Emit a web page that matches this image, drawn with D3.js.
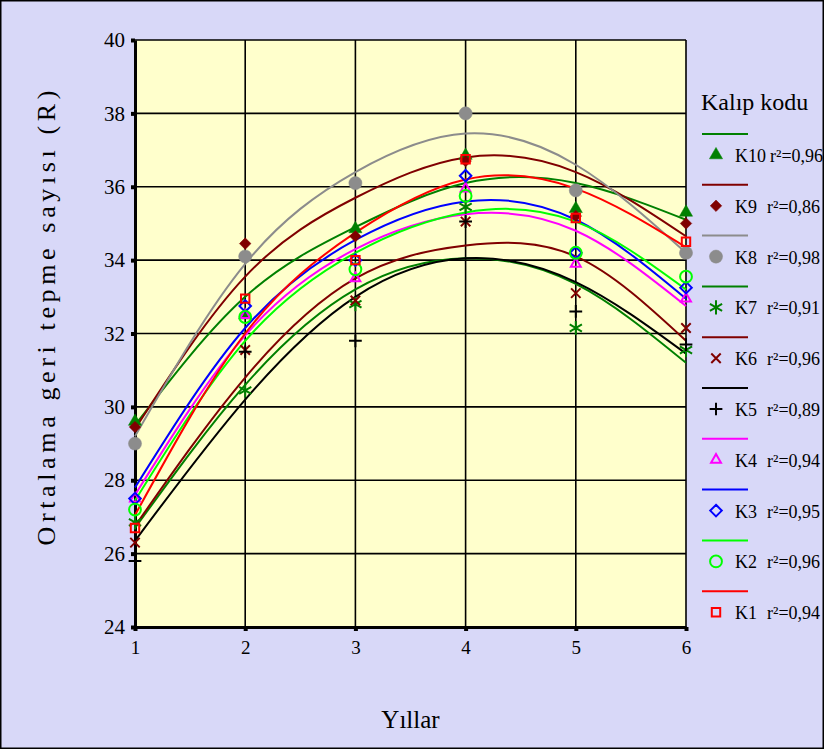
<!DOCTYPE html>
<html>
<head>
<meta charset="utf-8">
<script src="https://cdn.jsdelivr.net/npm/d3@7"></script>
<style>
  body { margin: 0; background: #fff; }
  svg { display: block; font-family: "Liberation Serif", "DejaVu Serif", serif; }
</style>
</head>
<body>
<div id="chart"></div>
<script>
// Kalıp kodu - yearly rebound number with quadratic trend lines

const width = 824,
    height = 749,
    margin = ({ top: 40, right: 138, bottom: 122, left: 135 });

// data
const years = [1, 2, 3, 4, 5, 6];
const codes = ["K10", "K9", "K8", "K7", "K6", "K5", "K4", "K3", "K2", "K1"];
const r2 = ["0,96", "0,86", "0,98", "0,91", "0,96", "0,89", "0,94", "0,95", "0,96", "0,94"];
const yTicks = [24, 26, 28, 30, 32, 34, 36, 38, 40];

// measured points
const k10 = [29.6, 32.5, 34.85, 36.85, 35.4, 35.3];
const k9 = [29.45, 34.45, 34.65, 36.7, 35.2, 35.0];
const k8 = [29.0, 34.1, 36.1, 38.0, 35.9, 34.2];
const k7 = [26.85, 30.45, 32.8, 35.45, 32.15, 31.55];
const k6 = [26.3, 31.55, 32.9, 35.05, 33.1, 32.15];
const k5 = [25.8, 31.5, 31.8, 35.05, 32.6, 31.7];
const k4 = [27.5, 32.5, 33.5, 35.95, 33.9, 32.95];
const k3 = [27.5, 32.75, 34.0, 36.3, 34.2, 33.25];
const k2 = [27.2, 32.45, 33.75, 35.75, 34.2, 33.55];
const k1 = [26.7, 32.95, 34.0, 36.75, 35.15, 34.5];

// trend line values read at each year
const fitK10 = [29.5, 33.0, 34.9, 36.1, 36.1, 35.1];
const fitK9 = [29.4, 33.55, 35.7, 36.8, 36.4, 34.65];
const fitK8 = [29.2, 33.9, 36.4, 37.45, 36.6, 34.2];
const fitK7 = [26.7, 30.6, 33.2, 34.05, 33.35, 31.2];
const fitK6 = [26.75, 30.8, 33.5, 34.4, 34.1, 31.8];
const fitK5 = [26.35, 30.2, 33.0, 34.05, 33.4, 31.45];
const fitK4 = [27.6, 31.95, 34.3, 35.25, 34.8, 32.75];
const fitK3 = [27.8, 32.15, 34.55, 35.6, 35.1, 32.95];
const fitK2 = [27.45, 31.8, 34.2, 35.3, 35.05, 33.2];
const fitK1 = [27.05, 32.0, 34.75, 36.2, 35.95, 34.35];

const points = [k10, k9, k8, k7, k6, k5, k4, k3, k2, k1];
const fits = [fitK10, fitK9, fitK8, fitK7, fitK6, fitK5, fitK4, fitK3, fitK2, fitK1];

// styles
const colors = ["#008000", "#800000", "#8c8c8c", "#008000", "#800000", "#000000", "#ff00ff", "#0000ff", "#00ff00", "#ff0000"];
const markers = [
    { type: d3.symbolTriangle, size: 75, fill: true },
    { type: d3.symbolDiamond2, size: 85, fill: true },
    { type: d3.symbolCircle, size: 135, fill: true },
    { type: d3.symbolAsterisk, size: 140, fill: false },
    { type: d3.symbolTimes, size: 60, fill: false },
    { type: d3.symbolPlus, size: 55, fill: false },
    { type: d3.symbolTriangle2, size: 70, fill: false },
    { type: d3.symbolDiamond2, size: 85, fill: false },
    { type: d3.symbolCircle, size: 110, fill: false },
    { type: d3.symbolSquare2, size: 90, fill: false }
];

const svg = d3.select("#chart")
    .append("svg")
    .attr("width", width)
    .attr("height", height);

svg.append("rect")
    .attr("x", 0.75).attr("y", 0.75)
    .attr("width", width - 1.5).attr("height", height - 1.5)
    .attr("fill", "#d8d8f8")
    .attr("stroke", "#000")
    .attr("stroke-width", 1.5);

const x = d3.scaleLinear()
    .domain([1, 6])
    .range([margin.left, width - margin.right]);

const y = d3.scaleLinear()
    .domain([24, 40])
    .range([height - margin.bottom, margin.top]);

// plot background
svg.append("rect")
    .attr("x", x(1)).attr("y", y(40))
    .attr("width", x(6) - x(1)).attr("height", y(24) - y(40))
    .attr("fill", "#ffffcc");

// grid
svg.append("g")
    .selectAll("line")
    .data(yTicks.slice(1))
    .join("line")
    .attr("x1", x(1)).attr("x2", x(6))
    .attr("y1", d => y(d)).attr("y2", d => y(d))
    .attr("stroke", "#000")
    .attr("stroke-width", 1.6);

svg.append("g")
    .selectAll("line")
    .data(years.slice(1))
    .join("line")
    .attr("x1", d => x(d)).attr("x2", d => x(d))
    .attr("y1", y(40)).attr("y2", y(24))
    .attr("stroke", "#000")
    .attr("stroke-width", 1.6);

// axes
const yAxis = svg.append("g")
    .attr("transform", `translate(${x(1)},0)`)
    .call(d3.axisLeft(y).tickValues(yTicks).tickFormat(d3.format("d"))
        .tickSize(4).tickSizeOuter(0).tickPadding(6));

const xAxis = svg.append("g")
    .attr("transform", `translate(0,${y(24)})`)
    .call(d3.axisBottom(x).tickValues(years).tickFormat(d3.format("d"))
        .tickSize(4).tickSizeOuter(0).tickPadding(10));

[yAxis, xAxis].forEach(g => {
    g.select(".domain").attr("stroke", "#000").attr("stroke-width", 3);
    g.selectAll(".tick line").attr("stroke", "#000").attr("stroke-width", 4);
    g.selectAll(".tick text")
        .attr("fill", "#000")
        .attr("font-family", "Liberation Serif")
        .attr("font-size", 21);
});
xAxis.selectAll(".tick text").attr("font-size", 19);

// trend lines
const line = d3.line()
    .x((d, i) => x(years[i]))
    .y(d => y(d))
    .curve(d3.curveNatural);

svg.append("g")
    .selectAll("path")
    .data(fits)
    .join("path")
    .attr("d", d => line(d))
    .attr("fill", "none")
    .attr("stroke", (d, i) => colors[i])
    .attr("stroke-width", 2);

// markers
function drawMarker(g, i) {
    const m = markers[i];
    g.append("path")
        .attr("d", d3.symbol().type(m.type).size(m.size))
        .attr("fill", m.fill ? colors[i] : "none")
        .attr("stroke", colors[i])
        .attr("stroke-width", m.fill ? 0.5 : 2);
}

points.forEach((vals, i) => {
    vals.forEach((v, j) => {
        const g = svg.append("g")
            .attr("transform", `translate(${x(years[j])},${y(v)})`);
        drawMarker(g, i);
    });
});

// legend
const legend = svg.append("g");
legend.append("text")
    .attr("x", 701).attr("y", 110)
    .attr("font-size", 24)
    .text("Kalıp kodu");

const step = 50.8;
codes.forEach((c, i) => {
    const cy = 155 + i * step;
    legend.append("line")
        .attr("x1", 702).attr("x2", 748)
        .attr("y1", cy - 21).attr("y2", cy - 21)
        .attr("stroke", colors[i])
        .attr("stroke-width", 2);
    drawMarker(legend.append("g").attr("transform", `translate(716,${cy})`), i);
    const name = legend.append("text")
        .attr("x", 735).attr("y", cy + 7)
        .attr("font-size", 18)
        .text(c);
    const nameEnd = 735 + name.node().getComputedTextLength();
    legend.append("text")
        .attr("x", Math.max(767, nameEnd + 4)).attr("y", cy + 7)
        .attr("font-size", 18)
        .text("r²=" + r2[i]);
});

// axis titles
svg.append("text")
    .attr("x", (x(1) + x(6)) / 2)
    .attr("y", 728)
    .attr("text-anchor", "middle")
    .attr("font-size", 25)
    .text("Yıllar");

svg.append("text")
    .attr("transform", `translate(55,${318}) rotate(-90)`)
    .attr("text-anchor", "middle")
    .attr("font-size", 26)
    .attr("textLength", 455)
    .attr("lengthAdjust", "spacing")
    .text("Ortalama geri tepme sayısı (R)");
</script>
</body>
</html>
